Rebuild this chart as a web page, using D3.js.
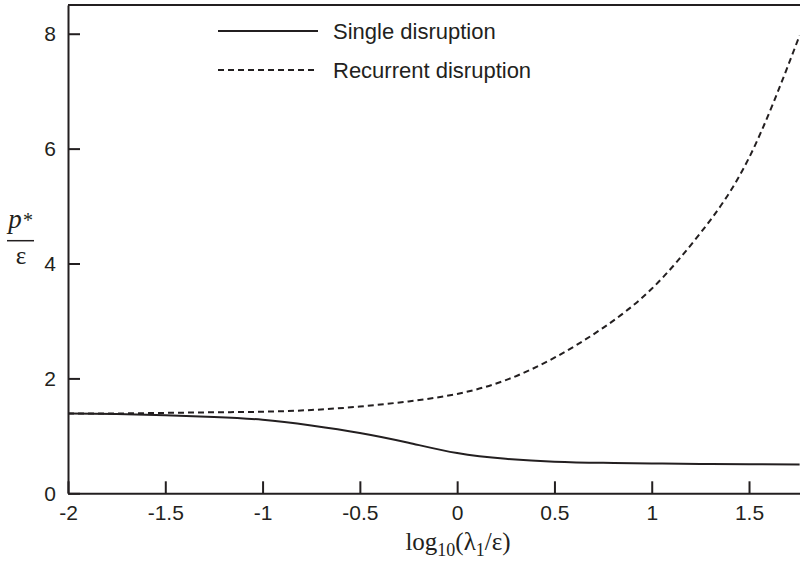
<!DOCTYPE html>
<html>
<head>
<meta charset="utf-8">
<script src="https://cdn.jsdelivr.net/npm/d3@7"></script>
<style>
  body { margin: 0; background: #fff; }
  .axis text { font-family: "Liberation Sans", Arial, sans-serif; font-size: 21px; fill: #231f20; }
  .axis path, .axis line { stroke: #231f20; stroke-width: 2; }
</style>
</head>
<body>
<script>
// x values: log10(lambda1 / epsilon)
var xVals = [-2, -1.75, -1.5, -1.25, -1, -0.75, -0.5, -0.25, 0, 0.25, 0.5, 0.75, 1, 1.25, 1.5, 1.76];
// p*/epsilon, single disruption (solid)
var singleVals = [1.39, 1.38, 1.36, 1.33, 1.28, 1.18, 1.05, 0.88, 0.70, 0.60, 0.55, 0.53, 0.52, 0.51, 0.505, 0.5];
// p*/epsilon, recurrent disruption (dashed)
var recurrentVals = [1.39, 1.39, 1.40, 1.41, 1.42, 1.45, 1.51, 1.60, 1.73, 1.97, 2.36, 2.88, 3.56, 4.53, 5.84, 7.97];
var xTicks = [-2, -1.5, -1, -0.5, 0, 0.5, 1, 1.5];
var yTicks = [0, 2, 4, 6, 8];
var seriesNames = ["Single disruption", "Recurrent disruption"];

var w = 800, h = 562;
var ink = "#231f20";

var svg = d3.select("body").append("svg")
    .attr("width", w)
    .attr("height", h);

var x = d3.scaleLinear().domain([-2, 1.762]).range([68, 800]);
var y = d3.scaleLinear().domain([0, 8.5]).range([493.3, 5]);

// frame: top line
svg.append("line")
    .attr("x1", 68).attr("x2", 800)
    .attr("y1", y(8.5)).attr("y2", y(8.5))
    .style("stroke", ink).style("stroke-width", 2);

// axes with inward ticks, plain hyphen for negatives
var plain = function(d) { return String(d); };

svg.append("g")
    .attr("class", "axis")
    .attr("transform", "translate(0," + y(0) + ")")
    .call(d3.axisBottom(x).tickValues(xTicks).tickFormat(plain).tickSizeInner(-12).tickSizeOuter(0).tickPadding(12));

svg.append("g")
    .attr("class", "axis")
    .attr("transform", "translate(68,0)")
    .call(d3.axisLeft(y).tickValues(yTicks).tickFormat(plain).tickSizeInner(-12).tickSizeOuter(0).tickPadding(12));

// curves
var pts = function(vals) {
    return xVals.map(function(d, i) { return [d, vals[i]]; });
};
var line = d3.line()
    .x(function(d) { return x(d[0]); })
    .y(function(d) { return y(d[1]); })
    .curve(d3.curveNatural);

svg.append("path")
    .datum(pts(singleVals))
    .attr("d", line)
    .style("fill", "none").style("stroke", ink).style("stroke-width", 2);

svg.append("path")
    .datum(pts(recurrentVals))
    .attr("d", line)
    .style("fill", "none").style("stroke", ink).style("stroke-width", 2)
    .style("stroke-dasharray", "6,4");

// legend
var legend = svg.selectAll(".legend")
    .data(seriesNames)
    .enter().append("g")
    .attr("class", "legend")
    .attr("transform", function(d, i) { return "translate(0," + (31 + i * 39) + ")"; });

legend.append("line")
    .attr("x1", 218).attr("x2", 318)
    .style("stroke", ink).style("stroke-width", 2)
    .style("stroke-dasharray", function(d, i) { return i === 0 ? null : "6,4"; });

legend.append("text")
    .attr("x", 333)
    .attr("y", 8)
    .style("font-family", "'Liberation Sans', Arial, sans-serif")
    .style("font-size", "22px")
    .style("fill", ink)
    .text(function(d) { return d; });

// x axis title: log10(λ1/ε)
var xt = svg.append("text")
    .attr("x", 458)
    .attr("y", 550)
    .attr("text-anchor", "middle")
    .style("font-family", "'Liberation Serif', 'Times New Roman', serif")
    .style("font-size", "25px")
    .style("fill", ink);
xt.append("tspan").text("log");
xt.append("tspan").attr("dy", 6).style("font-size", "18px").text("10");
xt.append("tspan").attr("dy", -6).text("(λ");
xt.append("tspan").attr("dy", 6).style("font-size", "18px").text("1");
xt.append("tspan").attr("dy", -6).text("/ε)");

// y axis title: p* over ε
var yt = svg.append("g")
    .style("font-family", "'Liberation Serif', 'Times New Roman', serif")
    .style("fill", ink);
yt.append("text")
    .attr("x", 15).attr("y", 228)
    .attr("text-anchor", "middle")
    .style("font-size", "27px")
    .style("font-style", "italic")
    .text("p");
yt.append("text")
    .attr("x", 23).attr("y", 227)
    .style("font-size", "20px")
    .text("*");
yt.append("line")
    .attr("x1", 7).attr("x2", 34)
    .attr("y1", 240.7).attr("y2", 240.7)
    .style("stroke", ink).style("stroke-width", 1.5);
yt.append("text")
    .attr("x", 21).attr("y", 264)
    .attr("text-anchor", "middle")
    .style("font-size", "25px")
    .text("ε");
</script>
</body>
</html>
